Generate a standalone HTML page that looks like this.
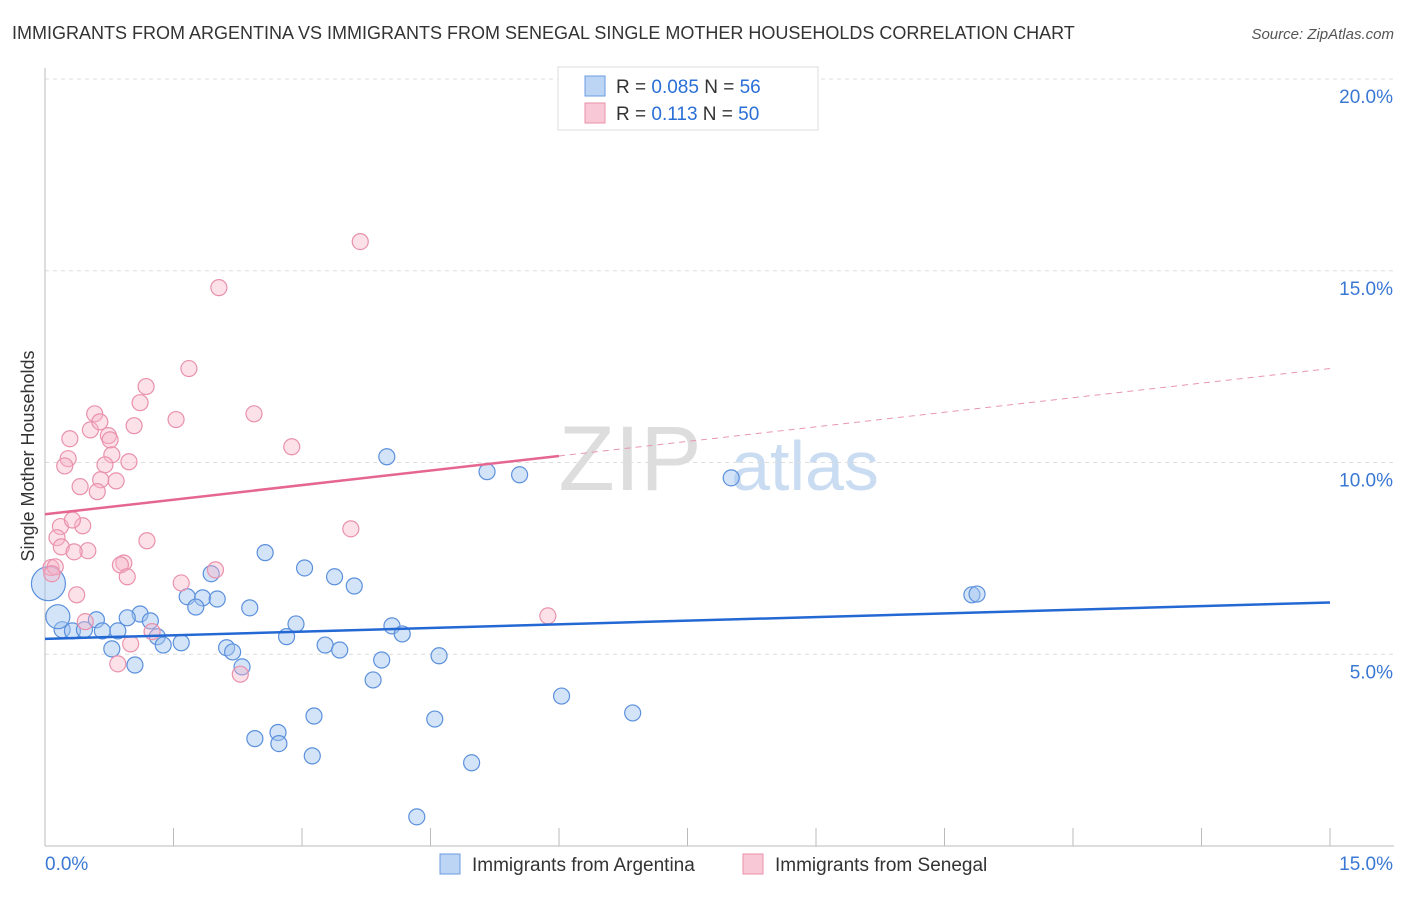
<!DOCTYPE html>
<html><head><meta charset="utf-8"><style>
body{margin:0;background:#fff;font-family:"Liberation Sans",sans-serif}
svg text{font-family:"Liberation Sans",sans-serif}
</style></head><body>
<svg width="1406" height="892">
<text x="12" y="39" font-size="18" fill="#333">IMMIGRANTS FROM ARGENTINA VS IMMIGRANTS FROM SENEGAL SINGLE MOTHER HOUSEHOLDS CORRELATION CHART</text>
<text x="1394" y="39" font-size="15" fill="#555" font-style="italic" text-anchor="end">Source: ZipAtlas.com</text>
<text x="630" y="490" font-size="92" fill="#ddd" font-family="Liberation Serif" text-anchor="middle">ZIP</text>
<text x="805" y="490" font-size="70" fill="#c9dcf2" text-anchor="middle">atlas</text>
<g id="grid"></g><g id="axes"></g><g id="marks"></g>
<text transform="translate(34,456) rotate(-90)" font-size="18" fill="#333" text-anchor="middle">Single Mother Households</text>
<g>
<rect x="558" y="67" width="260" height="63" fill="#fff" stroke="#ddd"/>
<rect x="585" y="76" width="20" height="20" fill="#bcd5f5" stroke="#6a9be0"/>
<rect x="585" y="103" width="20" height="20" fill="#f9c8d6" stroke="#ea8fab"/>
<text x="616" y="93" font-size="19" fill="#333">R = <tspan fill="#2a6fd6">0.085</tspan>   N = <tspan fill="#2a6fd6">56</tspan></text>
<text x="616" y="120" font-size="19" fill="#333">R =  <tspan fill="#2a6fd6"> 0.113</tspan>   N = <tspan fill="#2a6fd6">50</tspan></text>
</g>
<g>
<rect x="440" y="854" width="20" height="20" fill="#bcd5f5" stroke="#6a9be0"/>
<text x="472" y="871" font-size="19" fill="#333">Immigrants from Argentina</text>
<rect x="743" y="854" width="20" height="20" fill="#f9c8d6" stroke="#ea8fab"/>
<text x="775" y="871" font-size="19" fill="#333">Immigrants from Senegal</text>
</g>
</svg>
<script>
const yTicks=[5,10,15,20];
const yTickLabels=["5.0%","10.0%","15.0%","20.0%"];
const xTickVals=[0,1.5,3,4.5,6,7.5,9,10.5,12,13.5,15];
const argX=[3.99,5.16,5.54,8.01,2.57,3.03,3.38,1.94,3.61,1.66,1.84,2.01,1.76,2.39,1.11,0.96,1.23,0.6,2.93,4.05,0.2,0.32,0.46,0.67,0.85,1.31,2.82,4.17,3.27,1.59,1.38,2.12,2.19,3.44,0.78,3.93,4.6,1.05,3.83,2.3,6.03,6.86,4.55,3.14,2.72,2.45,2.73,3.12,4.98,4.34,10.82,10.88,0.15,0.04];
const argY=[10.15,9.76,9.68,9.6,7.65,7.25,7.02,7.1,6.78,6.5,6.47,6.44,6.23,6.21,6.05,5.95,5.87,5.9,5.79,5.74,5.64,5.61,5.64,5.61,5.61,5.46,5.46,5.53,5.24,5.3,5.24,5.17,5.06,5.11,5.14,4.85,4.96,4.72,4.33,4.67,3.91,3.47,3.31,3.39,2.96,2.8,2.67,2.35,2.17,0.76,6.55,6.57,5.98,6.84];
const argR=[8,8,8,8,8,8,8,8,8,8,8,8,8,8,8,8,8,8,8,8,8,8,8,8,8,8,8,8,8,8,8,8,8,8,8,8,8,8,8,8,8,8,8,8,8,8,8,8,8,8,8,8,12,17];
const senX=[3.68,2.03,1.68,1.18,1.11,2.44,1.53,0.58,1.04,0.53,0.64,0.74,0.29,0.76,2.88,0.27,0.78,0.23,0.7,0.98,0.83,0.65,0.41,0.61,3.57,0.18,0.44,0.32,0.14,0.19,0.5,0.34,1.19,0.92,0.88,0.96,1.59,1.99,0.07,0.12,0.08,0.37,5.87,0.47,1.25,1.0,2.28,0.85];
const senY=[15.76,14.56,12.45,11.98,11.56,11.27,11.12,11.27,10.96,10.85,11.06,10.7,10.62,10.59,10.41,10.1,10.2,9.91,9.94,10.02,9.52,9.55,9.37,9.24,8.27,8.33,8.35,8.5,8.04,7.8,7.7,7.67,7.96,7.38,7.33,7.02,6.86,7.2,7.26,7.28,7.1,6.55,6.0,5.85,5.59,5.27,4.48,4.75];
const argTrend=[5.4,6.35];
const senTrend=[8.65,12.45];
const X=v=>45+v*1285/15, Y=v=>846-v*(846-79)/20;
const NS="http://www.w3.org/2000/svg";
function mk(t,a,p){const e=document.createElementNS(NS,t);for(const k in a)e.setAttribute(k,a[k]);document.getElementById(p).appendChild(e);return e;}
yTicks.forEach((t,i)=>{
 const g=mk('line',{x1:45,x2:1394,y1:Y(t),y2:Y(t),stroke:'#ddd','stroke-dasharray':'4,4'},'grid');
 
 
 const l=mk('text',{x:1393,y:Y(t)+24,'font-size':19,fill:'#3a78d4','text-anchor':'end'},'axes');
 l.textContent=yTickLabels[i];
 
 
});
mk('line',{x1:45,x2:45,y1:68,y2:846,stroke:'#bbb'},'axes');
mk('line',{x1:45,x2:1394,y1:846,y2:846,stroke:'#bbb'},'axes');
xTickVals.forEach(t=>{
 const tk=mk('line',{x1:X(t),x2:X(t),y1:828,y2:846,stroke:'#bbb'},'axes');
 
 
});
const xl0=mk('text',{x:45,y:870,'font-size':19,fill:'#3a78d4'},'axes');xl0.textContent="0.0%";


const xl1=mk('text',{x:1393,y:870,'font-size':19,fill:'#3a78d4','text-anchor':'end'},'axes');xl1.textContent="15.0%";


argX.forEach((v,i)=>{
 const c=mk('circle',{cx:X(v),cy:Y(argY[i]),r:argR[i],fill:'rgba(160,195,240,0.45)',stroke:'#5b90dc','stroke-width':1.2},'marks');
 
 
});
senX.forEach((v,i)=>{
 const c=mk('circle',{cx:X(v),cy:Y(senY[i]),r:8,fill:'rgba(248,180,200,0.4)',stroke:'#e991ac','stroke-width':1.2},'marks');
 
 
});
const at=mk('line',{x1:X(0),y1:Y(argTrend[0]),x2:X(15),y2:Y(argTrend[1]),stroke:'#2468d4','stroke-width':2.5},'marks');


const sMid=senTrend[0]+(senTrend[1]-senTrend[0])*6/15;
const st=mk('line',{x1:X(0),y1:Y(senTrend[0]),x2:X(6),y2:Y(sMid),stroke:'#e5668f','stroke-width':2.5},'marks');


const sd=mk('line',{x1:X(6),y1:Y(sMid),x2:X(15),y2:Y(senTrend[1]),stroke:'#e896b0','stroke-width':1,'stroke-dasharray':'6,5'},'marks');


</script>
</body></html>
